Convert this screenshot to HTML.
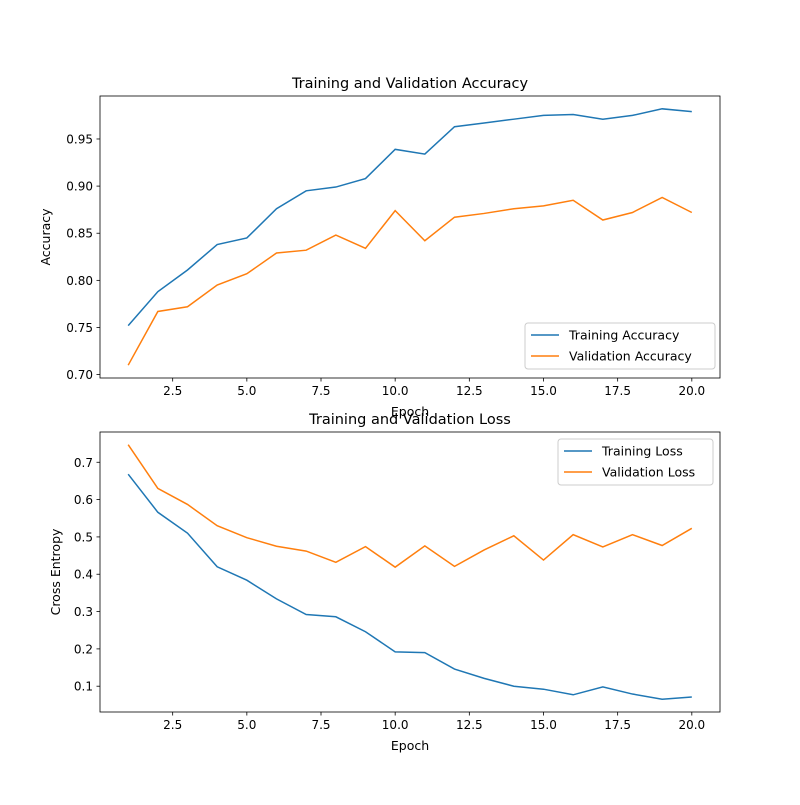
<!DOCTYPE html>
<html><head><meta charset="utf-8"><style>
body{margin:0;background:#fff}
svg text{font-family:"DejaVu Sans","Liberation Sans",sans-serif;fill:#000}
</style></head><body>
<svg id="chart" width="800" height="800" xmlns="http://www.w3.org/2000/svg"></svg>
<script>
const epochs=[1,2,3,4,5,6,7,8,9,10,11,12,13,14,15,16,17,18,19,20];
const trainAcc=[0.752,0.788,0.811,0.838,0.845,0.876,0.895,0.899,0.908,0.939,0.934,0.963,0.967,0.971,0.975,0.976,0.971,0.975,0.982,0.979];
const valAcc=[0.710,0.767,0.772,0.795,0.807,0.829,0.832,0.848,0.834,0.874,0.842,0.867,0.871,0.876,0.879,0.885,0.864,0.872,0.888,0.872];
const trainLoss=[0.668,0.566,0.510,0.420,0.384,0.334,0.292,0.286,0.246,0.192,0.190,0.146,0.121,0.100,0.092,0.077,0.098,0.079,0.065,0.071];
const valLoss=[0.747,0.630,0.587,0.530,0.498,0.475,0.462,0.432,0.474,0.419,0.476,0.421,0.465,0.503,0.438,0.506,0.473,0.506,0.477,0.523];
const xTicks=[2.5,5.0,7.5,10.0,12.5,15.0,17.5,20.0];
const accTicks=[0.70,0.75,0.80,0.85,0.90,0.95];
const lossTicks=[0.1,0.2,0.3,0.4,0.5,0.6,0.7];

const svg=document.getElementById('chart');
const NS='http://www.w3.org/2000/svg';
function mk(tag,attrs,parent){const e=document.createElementNS(NS,tag);for(const k in attrs)e.setAttribute(k,attrs[k]);(parent||svg).appendChild(e);return e;}

function panel(cfg){
  const {x0,x1,y0,y1,series,yTicks,title,ylabel,legend,name}=cfg;
  const allv=series.flatMap(s=>s.data);
  const mn=Math.min(...allv),mx=Math.max(...allv),pad=(mx-mn)*0.05;
  const ylo=mn-pad,yhi=mx+pad;
  const xmn=Math.min(...epochs),xmx=Math.max(...epochs),xp=(xmx-xmn)*0.05;
  const X=v=>x0+(v-(xmn-xp))/((xmx+xp)-(xmn-xp))*(x1-x0);
  const Y=v=>y1-(v-ylo)/(yhi-ylo)*(y1-y0);
  const g=mk('g',{});
  
  
  series.forEach(s=>{
    const p=mk('polyline',{points:s.data.map((v,i)=>X(epochs[i])+','+Y(v)).join(' '),fill:'none',stroke:s.color,'stroke-width':1.5},g);
    
    
  });
  const fr=mk('rect',{x:x0,y:y0,width:x1-x0,height:y1-y0,fill:'none',stroke:'#000','stroke-width':0.8},g);
  
  
  xTicks.forEach(t=>{
    const x=X(t);
    mk('line',{x1:x,x2:x,y1:y1,y2:y1+3.5,stroke:'#000','stroke-width':0.8},g);
    const tx=mk('text',{x:x,y:y1+17,'text-anchor':'middle','font-size':12},g);
    tx.textContent=t.toFixed(1);
    
    
  });
  yTicks.forEach(t=>{
    const y=Y(t);
    mk('line',{x1:x0-3.5,x2:x0,y1:y,y2:y,stroke:'#000','stroke-width':0.8},g);
    const tx=mk('text',{x:x0-7,y:y+4.5,'text-anchor':'end','font-size':12},g);
    tx.textContent=t.toFixed(cfg.dec);
    
    
  });
  const ti=mk('text',{x:(x0+x1)/2,y:y0-8,'text-anchor':'middle','font-size':14.5},g);
  ti.textContent=title;
  
  
  const xl=mk('text',{x:(x0+x1)/2,y:y1+38,'text-anchor':'middle','font-size':12.5},g);
  xl.textContent='Epoch';
  
  
  const yl=mk('text',{x:0,y:0,'text-anchor':'middle','font-size':12.5,transform:`translate(${cfg.ylx},${(y0+y1)/2}) rotate(-90)`},g);
  yl.textContent=ylabel;
  
  
  const L=legend;
  const lb=mk('rect',{x:L.x,y:L.y,width:L.w,height:46,rx:3,fill:'#fff','fill-opacity':0.8,stroke:'#ccc'},g);
  
  
  series.forEach((s,i)=>{
    const yy=L.y+12+i*21;
    mk('line',{x1:L.x+6,x2:L.x+34,y1:yy,y2:yy,stroke:s.color,'stroke-width':1.5},g);
    const t=mk('text',{x:L.x+44,y:yy+4.5,'font-size':12.5},g);
    t.textContent=s.label;
    
    
  });
}
panel({name:'accuracy-panel',x0:100,x1:720,y0:96,y1:378,dec:2,ylx:50,title:'Training and Validation Accuracy',ylabel:'Accuracy',yTicks:accTicks,
  legend:{x:525,y:323,w:190},
  series:[{name:'training-accuracy-line',label:'Training Accuracy',data:trainAcc,color:'#1f77b4'},{name:'validation-accuracy-line',label:'Validation Accuracy',data:valAcc,color:'#ff7f0e'}]});
panel({name:'loss-panel',x0:100,x1:720,y0:432,y1:712,dec:1,ylx:60,title:'Training and Validation Loss',ylabel:'Cross Entropy',yTicks:lossTicks,
  legend:{x:558,y:439,w:155},
  series:[{name:'training-loss-line',label:'Training Loss',data:trainLoss,color:'#1f77b4'},{name:'validation-loss-line',label:'Validation Loss',data:valLoss,color:'#ff7f0e'}]});
</script>
</body></html>
